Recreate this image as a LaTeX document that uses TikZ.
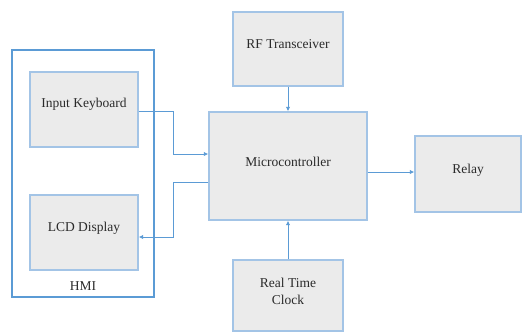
\documentclass[tikz,border=0pt]{standalone}
\usepackage{fontspec}
\setmainfont{Liberation Serif}
\usetikzlibrary{arrows.meta}
\definecolor{boxfill}{HTML}{EBEBEB}
\definecolor{boxline}{HTML}{A3C4E6}
\definecolor{hmiline}{HTML}{5B9BD5}
\definecolor{arrcol}{HTML}{5B9BD5}
\definecolor{txt}{HTML}{2A2A2A}
\tikzset{
  blk/.style={draw=boxline, line width=1.4pt, fill=boxfill, inner sep=0pt},
  lbl/.style={text=txt, font=\fontsize{13.5}{17}\selectfont, align=center},
  arr/.style={draw=arrcol, line width=0.9pt, -{Latex[length=4.5pt,width=4.5pt]}},
}
\begin{document}
\begin{tikzpicture}[x=1pt,y=-1pt]
\useasboundingbox (0,0) rectangle (522,333);
% HMI container
\node[draw=hmiline, line width=1.6pt, minimum width=142pt, minimum height=247pt, inner sep=0pt] (hmi) at (83,173.5) {};
\node[lbl] (hmilbl) at (83,286) {HMI};
% blocks
\node[blk, minimum width=108pt, minimum height=75pt] (kb) at (84,109.5) {};
\node[lbl] (kbt) at (84,104) {Input Keyboard};
\node[blk, minimum width=108pt, minimum height=75pt] (lcd) at (84,232.5) {};
\node[lbl] (lcdt) at (84,228) {LCD Display};
\node[blk, minimum width=110pt, minimum height=74pt] (rf) at (288,49) {};
\node[lbl] (rft) at (288,44) {RF Transceiver};
\node[blk, minimum width=158pt, minimum height=108pt] (mc) at (288,166) {};
\node[lbl] (mct) at (288,162) {Microcontroller};
\node[blk, minimum width=110pt, minimum height=71pt] (rtc) at (288,295.5) {};
\node[lbl] (rtct) at (288,291.5) {Real Time\\Clock};
\node[blk, minimum width=106pt, minimum height=76pt] (relay) at (468,174) {};
\node[lbl] (relayt) at (468,170) {Relay};
% connector coordinates
\coordinate (k1) at (173,111);
\coordinate (k2) at (173,154);
\coordinate (l1) at (173,182);
\coordinate (l2) at (173,237);
\coordinate (r1) at (390,172);
% connectors
\draw[arr] (k1 -| kb.east) -- (k1) -- (k2) -- (k2 -| mc.west);
\draw[arr] (l1 -| mc.west) -- (l1) -- (l2) -- (l2 -| lcd.east);
\draw[arr] (rf.south) -- (mc.north);
\draw[arr] (rtc.north) -- (mc.south);
\draw[arr] (r1 -| mc.east) -- (r1 -| relay.west);
\end{tikzpicture}
\end{document}
